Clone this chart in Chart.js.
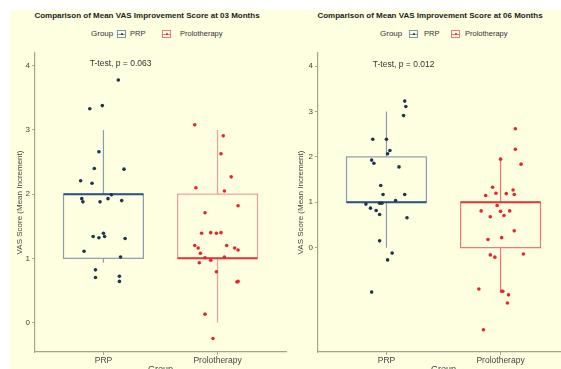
<!DOCTYPE html>
<html>
<head>
<meta charset="utf-8">
<script src="https://cdn.jsdelivr.net/npm/chart.js@4"></script>
<style>
  body { margin: 0; width: 561px; height: 369px; overflow: hidden; position: relative; background: #fff; font-family: "Liberation Sans", Arial, sans-serif; }
  #bg { position: absolute; left: 10px; top: 10px; right: 0; bottom: 0; background: #fefee0; }
  canvas { position: absolute; top: 0; }
  .title { position: absolute; top: 11px; font-size: 8px; font-weight: bold; color: #222; white-space: nowrap; transform: translateX(-50%); }
  .lg { position: absolute; top: 29px; font-size: 7.5px; color: #333; white-space: nowrap; line-height: 10px; }
  .lg.head { font-size: 8px; color: #333; }
  .key { position: absolute; top: 30px; width: 9px; height: 8px; border: 1px solid var(--c); box-sizing: border-box; }
  .key::before { content: ""; position: absolute; left: 0; right: 0; top: 2.5px; border-top: 1px solid var(--c); }
  .key::after { content: ""; position: absolute; left: 2.5px; top: 1.5px; width: 2px; height: 2px; border-radius: 50%; background: var(--d); }
</style>
</head>
<body>
<div id="bg"></div>

<div class="title" style="left:147px">Comparison of Mean VAS Improvement Score at 03 Months</div>
<span class="lg head" style="left:91px">Group</span>
<span class="key" style="left:117px; --c:#7f95aa; --d:#1c3550"></span>
<span class="lg" style="left:130px">PRP</span>
<span class="key" style="left:162px; --c:#f07a7a; --d:#e8262a"></span>
<span class="lg" style="left:180px">Prolotherapy</span>

<div class="title" style="left:430px">Comparison of Mean VAS Improvement Score at 06 Months</div>
<span class="lg head" style="left:380px">Group</span>
<span class="key" style="left:409px; --c:#7f95aa; --d:#1c3550"></span>
<span class="lg" style="left:424px">PRP</span>
<span class="key" style="left:451px; --c:#f07a7a; --d:#e8262a"></span>
<span class="lg" style="left:465px">Prolotherapy</span>

<canvas id="chart03" width="280" height="380" style="left:10px"></canvas>
<canvas id="chart06" width="300" height="380" style="left:290px"></canvas>

<script>
// Categories
const groups = ['PRP', 'Prolotherapy'];
const yTicks = [0, 1, 2, 3, 4];

// Box stats: [lower whisker, Q1, median, Q3, upper whisker]
const box03Prp = [0.93, 1, 2, 2, 3];
const box03Prolo = [0, 1, 1, 2, 3];
const box06Prp = [0, 1, 1, 2, 3];
const box06Prolo = [-0.95, 0, 1, 1, 1.97];

// 03 months - individual scores and horizontal jitter
const prp03 = [3.78, 3.33, 3.38, 2.66, 2.40, 2.39, 2.21, 2.17, 1.99, 1.93, 1.88, 1.88, 1.93, 1.90,
  1.34, 1.32, 1.39, 1.34, 1.31, 1.11, 1.02, 0.82, 0.70, 0.72, 0.64];
const prp03Jitter = [0.13, -0.12, -0.01, -0.04, -0.08, 0.18, -0.20, -0.10, 0.07, -0.19, -0.18, -0.03, 0.04, 0.16,
  -0.09, -0.04, 0.00, 0.01, 0.19, -0.17, 0.15, -0.07, -0.07, 0.14, 0.14];
const prolo03 = [3.08, 2.91, 2.63, 2.27, 2.10, 2.05, 1.82, 1.71, 1.39, 1.40, 1.39, 1.40, 1.20, 1.16,
  1.20, 1.16, 1.13, 1.08, 1.01, 1.02, 0.93, 0.97, 0.79, 0.63, 0.64, 0.13, -0.25];
const prolo03Jitter = [-0.20, 0.05, 0.03, 0.12, -0.19, 0.06, 0.18, -0.11, -0.14, -0.06, -0.01, 0.03, -0.20, -0.17,
  0.08, 0.15, 0.18, -0.15, -0.11, 0.06, -0.16, -0.06, -0.01, 0.17, 0.18, -0.11, -0.04];

// 06 months
const prp06 = [3.23, 3.11, 2.91, 2.39, 2.39, 2.14, 2.07, 1.93, 1.86, 1.78, 1.37, 1.17, 1.17, 1.04,
  0.96, 0.98, 0.98, 0.87, 0.82, 0.73, 0.66, 0.15, -0.12, -0.27, -0.98];
const prp06Jitter = [0.16, 0.17, 0.15, -0.12, 0.00, 0.03, 0.01, -0.13, -0.11, 0.11, -0.05, -0.03, 0.16, 0.08,
  -0.18, -0.06, -0.04, -0.14, -0.09, -0.06, 0.18, -0.06, 0.05, 0.01, -0.13];
const prolo06 = [2.62, 2.17, 1.95, 1.84, 1.33, 1.27, 1.15, 1.20, 1.19, 1.17, 0.93, 0.81, 0.80, 0.81,
  0.68, 0.71, 0.37, 0.18, 0.22, -0.16, -0.21, -0.14, -0.91, -0.96, -0.96, -1.04, -1.22, -1.81];
const prolo06Jitter = [0.13, 0.13, 0.00, 0.18, -0.07, 0.11, -0.13, -0.04, 0.05, 0.12, -0.03, -0.17, 0.00, 0.08,
  -0.09, 0.03, 0.12, -0.11, 0.01, -0.09, -0.05, 0.20, -0.19, 0.01, 0.02, 0.07, 0.06, -0.15];

const pText03 = 'T-test, p = 0.063';
const pText06 = 'T-test, p = 0.012';

const axisColor = '#a5a58e';
const pointColors = ['#1c3550', '#e8262a'];
const medianColors = ['#2c5282', '#e8333a'];

// box plot + annotation drawn through the chart scales
function boxPlugin(stats, label, boxCols) {
  return {
    id: 'boxes',
    beforeDatasetsDraw(chart) {
      const { ctx, scales: { x, y } } = chart;
      stats.forEach((s, i) => {
        const cx = x.getPixelForValue(i + 1);
        const half = x.getPixelForValue(i + 1.35) - cx;
        const py = v => y.getPixelForValue(v);
        ctx.save();
        ctx.strokeStyle = boxCols[i];
        ctx.lineWidth = 1.2;
        ctx.beginPath();
        ctx.moveTo(cx, py(s[0])); ctx.lineTo(cx, py(s[1]));
        ctx.moveTo(cx, py(s[3])); ctx.lineTo(cx, py(s[4]));
        ctx.stroke();
        ctx.strokeRect(cx - half, py(s[3]), half * 2, py(s[1]) - py(s[3]));
        ctx.strokeStyle = medianColors[i];
        ctx.lineWidth = 2;
        ctx.beginPath();
        ctx.moveTo(cx - half, py(s[2])); ctx.lineTo(cx + half, py(s[2]));
        ctx.stroke();
        ctx.restore();
      });
    },
    afterDatasetsDraw(chart) {
      const { ctx, scales: { x, y } } = chart;
      ctx.save();
      ctx.font = '8.5px "Liberation Sans", Arial, sans-serif';
      ctx.fillStyle = '#333';
      ctx.textAlign = 'left';
      ctx.textBaseline = 'middle';
      ctx.fillText(label, x.getPixelForValue(0.88), y.getPixelForValue(4.04));
      ctx.restore();
    }
  };
}

function makeChart(id, stats, prp, prpJit, prolo, proloJit, yMin, yMax, label, yWidth, padRight, titlePad, boxCols) {
  const toPoints = (vals, jit, pos) => vals.map((v, i) => ({ x: pos + jit[i], y: v }));
  return new Chart(document.getElementById(id), {
    type: 'scatter',
    data: {
      datasets: [
        { label: groups[0], data: toPoints(prp, prpJit, 1), backgroundColor: pointColors[0], borderWidth: 0, pointRadius: 1.8 },
        { label: groups[1], data: toPoints(prolo, proloJit, 2), backgroundColor: pointColors[1], borderWidth: 0, pointRadius: 1.8 }
      ]
    },
    options: {
      responsive: false,
      animation: false,
      devicePixelRatio: 1,
      layout: { padding: { left: 0, right: padRight, top: 53, bottom: 0 } },
      plugins: { legend: { display: false }, tooltip: { enabled: false } },
      scales: {
        x: {
          type: 'linear', min: 0.4, max: 2.6,
          afterBuildTicks: s => { s.ticks = [{ value: 1 }, { value: 2 }]; },
          afterFit: s => { s.height = 28; },
          ticks: { callback: v => groups[v - 1], color: '#444', font: { size: 8.5, family: '"Liberation Sans", Arial' }, padding: 1, maxRotation: 0 },
          grid: { drawOnChartArea: false, color: axisColor, tickLength: 3 },
          border: { color: axisColor, width: 1.2 },
          title: { display: true, text: 'Group', color: '#444', font: { size: 9, family: '"Liberation Sans", Arial' }, padding: { top: 0, bottom: 5 } }
        },
        y: {
          min: yMin, max: yMax,
          afterBuildTicks: s => { s.ticks = yTicks.map(v => ({ value: v })); },
          afterFit: s => { s.width = yWidth; },
          ticks: { color: '#444', font: { size: 8, family: '"Liberation Sans", Arial' }, padding: 2 },
          grid: { drawOnChartArea: false, color: axisColor, tickLength: 3 },
          border: { color: axisColor, width: 1.2 },
          title: { display: true, text: 'VAS Score (Mean Increment)', color: '#444', font: { size: 8, family: '"Liberation Sans", Arial' }, padding: { top: titlePad, bottom: 0 } }
        }
      }
    },
    plugins: [boxPlugin(stats, label, boxCols)]
  });
}

makeChart('chart03', [box03Prp, box03Prolo], prp03, prp03Jitter, prolo03, prolo03Jitter,
  -0.46, 4.2, pText03, 25, 2, 5, ['#8a9db0', '#f29b9b']);
makeChart('chart06', [box06Prp, box06Prolo], prp06, prp06Jitter, prolo06, prolo06Jitter,
  -2.3, 4.29, pText06, 28, 21, 6, ['#8a9db0', '#f07575']);
</script>
</body>
</html>
